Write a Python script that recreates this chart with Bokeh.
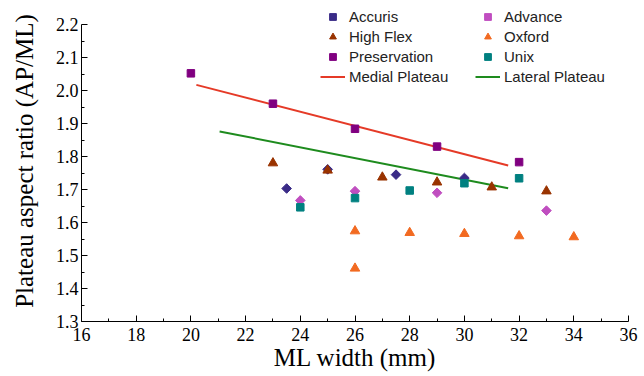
import numpy as np
from bokeh.plotting import figure
from bokeh.models import (FixedTicker, PrintfTickFormatter, Legend, LegendItem,
                          Range1d, LinearAxis)
from bokeh.embed import file_html
from bokeh.resources import INLINE

# ---- data ----
accuris_x = [23.5, 25, 27.5, 30]
accuris_y = [1.703, 1.761, 1.745, 1.735]

advance_x = [24, 26, 29, 33]
advance_y = [1.667, 1.695, 1.690, 1.636]

highflex_x = [23, 25, 27, 29, 31, 33]
highflex_y = [1.780, 1.758, 1.737, 1.722, 1.707, 1.695]

oxford_x = [26, 26, 28, 30, 32, 34]
oxford_y = [1.574, 1.461, 1.569, 1.566, 1.559, 1.556]

preservation_x = [20, 23, 26, 29, 32]
preservation_y = [2.052, 1.960, 1.884, 1.830, 1.783]

unix_x = [24, 26, 28, 30, 32]
unix_y = [1.646, 1.674, 1.697, 1.719, 1.734]

medial_x = [20.2, 31.6]
medial_y = [2.017, 1.773]

lateral_x = [21.05, 31.6]
lateral_y = [1.876, 1.704]

x_ticks = [16, 18, 20, 22, 24, 26, 28, 30, 32, 34, 36]
x_minor = [17, 19, 21, 23, 25, 27, 29, 31, 33, 35]
y_ticks = [1.3, 1.4, 1.5, 1.6, 1.7, 1.8, 1.9, 2.0, 2.1, 2.2]
y_minor = [1.35, 1.45, 1.55, 1.65, 1.75, 1.85, 1.95, 2.05, 2.15]

# ---- colours ----
C_ACC = "#3a2b87"
C_ADV = "#c04ec0"
C_HF = "#993300"
C_OX = "#f26a21"
C_PRES = "#800080"
C_UNIX = "#008080"
C_MED = "#e53a27"
C_LAT = "#1e8b1e"

SERIF = "Liberation Serif"
SANS = "Liberation Sans"

# the frame reaches to the top of the canvas so that the legend (above 2.2)
# is not clipped; the y axis line itself is bounded to 1.3 .. 2.2
Y_TOP = 2.2 + 24 / 330.0

p = figure(width=644, height=376, output_backend="svg", toolbar_location=None,
           x_range=Range1d(16, 36), y_range=Range1d(1.3, Y_TOP),
           x_axis_location=None, y_axis_location=None,
           min_border_left=81, min_border_right=16, min_border_top=0,
           min_border_bottom=55)
p.outline_line_color = None
p.xgrid.visible = False
p.ygrid.visible = False
p.background_fill_color = "white"
p.border_fill_color = "white"

# lines
r_med = p.line(medial_x, medial_y, line_color=C_MED, line_width=2)
r_lat = p.line(lateral_x, lateral_y, line_color=C_LAT, line_width=2)

# markers
r_acc = p.scatter(accuris_x, accuris_y, marker="square", angle=np.pi / 4, size=6.8,
                  fill_color=C_ACC, line_color=C_ACC)
r_adv = p.scatter(advance_x, advance_y, marker="square", angle=np.pi / 4, size=6.8,
                  fill_color=C_ADV, line_color=C_ADV)
r_hf = p.scatter(highflex_x, highflex_y, marker="triangle", size=9.5,
                 fill_color=C_HF, line_color=C_HF)
r_ox = p.scatter(oxford_x, oxford_y, marker="triangle", size=9.5,
                 fill_color=C_OX, line_color=C_OX)
r_pres = p.scatter(preservation_x, preservation_y, marker="square", size=7.5,
                   fill_color=C_PRES, line_color=C_PRES)
r_unix = p.scatter(unix_x, unix_y, marker="square", size=7.5,
                   fill_color=C_UNIX, line_color=C_UNIX)


def make_axis(ticks, minor, fmt, label, label_standoff, tick_standoff, bounds=None):
    kw = dict(
        ticker=FixedTicker(ticks=ticks, minor_ticks=minor),
        formatter=PrintfTickFormatter(format=fmt),
        axis_label=label,
        axis_label_standoff=label_standoff,
        axis_label_text_font=SERIF,
        axis_label_text_font_size="25px",
        axis_label_text_font_style="normal",
        axis_label_text_color="black",
        major_label_text_font=SERIF,
        major_label_text_font_size="18px",
        major_label_text_font_style="normal",
        major_label_text_color="black",
        major_label_standoff=tick_standoff,
        axis_line_color="black", axis_line_width=1,
        major_tick_in=6, major_tick_out=0,
        minor_tick_in=3, minor_tick_out=0,
        major_tick_line_color="black", minor_tick_line_color="black",
    )
    if bounds is not None:
        kw["bounds"] = bounds
    return LinearAxis(**kw)


xaxis = make_axis(x_ticks, x_minor, "%d", "ML width (mm)", 0, 6)
yaxis = make_axis(y_ticks, y_minor, "%.1f", "Plateau aspect ratio (AP/ML)", 15, 3,
                  bounds=(1.3, 2.2))
p.add_layout(xaxis, "below")
p.add_layout(yaxis, "left")

# legends
def make_legend(items, x, y):
    return Legend(items=items, location=(x, y), orientation="vertical",
                  padding=0, margin=0, spacing=3, glyph_width=25, glyph_height=17,
                  label_height=17, label_standoff=4,
                  label_text_font=SANS, label_text_font_size="15px",
                  label_text_color="#222222",
                  background_fill_alpha=0, border_line_alpha=0)

left_items = [LegendItem(label="Accuris", renderers=[r_acc]),
              LegendItem(label="High Flex", renderers=[r_hf]),
              LegendItem(label="Preservation", renderers=[r_pres]),
              LegendItem(label="Medial Plateau", renderers=[r_med])]
right_items = [LegendItem(label="Advance", renderers=[r_adv]),
               LegendItem(label="Oxford", renderers=[r_ox]),
               LegendItem(label="Unix", renderers=[r_unix]),
               LegendItem(label="Lateral Plateau", renderers=[r_lat])]
p.add_layout(make_legend(left_items, 239, 236))
p.add_layout(make_legend(right_items, 394, 236))

open("out.html", "w").write(file_html(p, INLINE))
